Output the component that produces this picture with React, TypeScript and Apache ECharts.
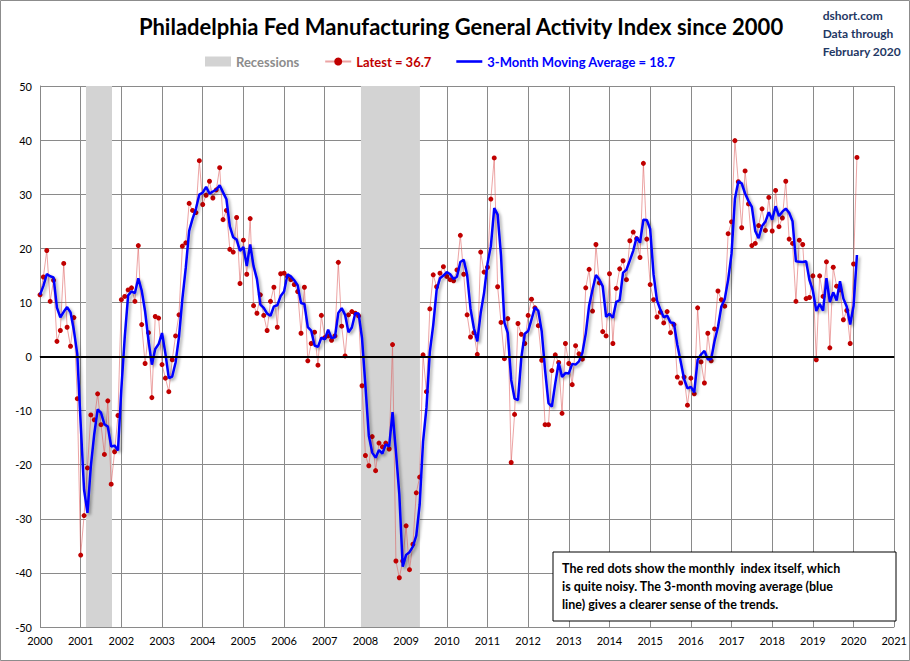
import { useRef, useEffect } from "react";
import * as echarts from "echarts";

// Monthly index values, Jan 2000 .. Feb 2020
const Y2000 = [11.4, 14.7, 19.6, 10.2, 14.1, 2.8, 4.8, 17.2, 5.4, 1.9, 7.2, -7.8];
const Y2001 = [-36.7, -29.4, -20.6, -10.8, -11.7, -6.9, -12.6, -18.1, -8.2, -23.6, -17.6, -10.9];
const Y2002 = [10.5, 11.1, 12.3, 12.7, 10.2, 20.5, 5.9, -1.3, 4.4, -7.6, 7.4, 7.1];
const Y2003 = [-1.5, -4.0, -6.5, -0.6, 3.8, 7.7, 20.4, 21.0, 28.3, 27.0, 26.6, 36.2];
const Y2004 = [28.1, 29.8, 32.4, 29.3, 30.8, 34.9, 25.3, 27.0, 19.8, 19.3, 25.7, 13.5];
const Y2005 = [21.5, 15.2, 25.5, 9.4, 8.0, 11.4, 7.6, 4.8, 10.2, 12.8, 5.4, 15.3];
const Y2006 = [15.4, 14.8, 14.2, 13.3, 12.0, 4.3, 12.8, -0.8, 2.4, 4.5, -1.6, 7.6];
const Y2007 = [3.5, 3.8, 3.0, 3.8, 17.4, 5.6, 0.1, 7.7, 8.3, 8.0, 7.5, -5.4];
const Y2008 = [-18.3, -20.2, -14.8, -21.1, -16.0, -16.7, -16.0, -17.1, 2.2, -37.8, -40.9, -37.8];
const Y2009 = [-31.3, -39.4, -34.7, -25.2, -22.3, 0.3, -6.5, 8.8, 15.1, 12.9, 15.4, 16.6];
const Y2010 = [14.8, 14.2, 14.0, 16.0, 22.4, 15.2, 7.7, 3.6, 4.4, 0.4, 19.3, 15.6];
const Y2011 = [16.5, 29.1, 36.7, 12.9, 6.3, -0.4, 7.0, -19.6, -10.7, 6.1, 4.1, 2.4];
const Y2012 = [7.6, 10.6, 9.0, 5.7, -0.7, -12.6, -12.6, -2.6, 0.3, -1.1, -10.5, 2.4];
const Y2013 = [-1.3, -5.2, 2.0, 0.5, -0.5, 12.7, 16.1, 8.4, 20.7, 13.6, 4.6, 3.8];
const Y2014 = [15.3, 2.4, 12.6, 16.2, 17.7, 14.2, 21.4, 23.0, 21.8, 18.3, 35.7, 21.7];
const Y2015 = [13.3, 10.5, 7.3, 8.2, 6.2, 8.3, 4.4, 5.9, -3.8, -4.9, -3.8, -9.0];
const Y2016 = [-4.0, -6.9, 9.0, -1.0, -4.9, 4.3, -0.8, 5.1, 12.1, 10.5, 9.3, 22.7];
const Y2017 = [24.9, 39.9, 32.3, 23.8, 34.3, 28.2, 20.5, 20.9, 24.2, 27.3, 23.3, 29.4];
const Y2018 = [23.2, 30.7, 24.0, 25.6, 32.4, 21.7, 20.9, 10.2, 21.5, 20.7, 10.7, 10.9];
const Y2019 = [14.9, -0.6, 14.9, 11.1, 17.5, 1.6, 16.5, 13.0, 12.3, 6.8, 8.5, 2.4];
const Y2020 = [17.1, 36.8];

const YEARS = [Y2000, Y2001, Y2002, Y2003, Y2004, Y2005, Y2006, Y2007, Y2008, Y2009, Y2010,
  Y2011, Y2012, Y2013, Y2014, Y2015, Y2016, Y2017, Y2018, Y2019, Y2020];

const RECESSIONS: [number, number][] = [[2001.13, 2001.77], [2007.89, 2009.34]];

const FONT = "Lato, 'Open Sans', sans-serif";

export default function App() {
  const ref = useRef<HTMLDivElement>(null);

  useEffect(() => {
    document.body.style.margin = "0";
    if (!ref.current) return;
    const chart = echarts.init(ref.current, undefined, { renderer: "svg" });

    const monthly: [number, number][] = [];
    YEARS.forEach((vals, yi) => {
      vals.forEach((v, m) => monthly.push([2000 + yi + m / 12, v]));
    });
    // 3-month moving average of the monthly values
    const ma: [number, number][] = monthly.map((p, i) => {
      const win = monthly.slice(Math.max(0, i - 2), i + 1);
      return [p[0], win.reduce((s, q) => s + q[1], 0) / win.length];
    });

    chart.setOption({
      animation: false,
      backgroundColor: "#fff",
      textStyle: { fontFamily: FONT },
      grid: { left: 40, right: 15, top: 86, bottom: 34 },
      title: {
        text: "Philadelphia Fed Manufacturing General Activity Index since 2000",
        left: 456,
        textAlign: "center",
        top: 10,
        textStyle: { fontSize: 22, fontWeight: "bold", color: "#000", fontFamily: FONT },
      },
      legend: {
        top: 50,
        left: 200,
        itemGap: 25,
        itemWidth: 26,
        itemHeight: 10,
        textStyle: { fontSize: 13, fontWeight: "bold", fontFamily: FONT },
        data: [
          { name: "Recessions", icon: "rect", textStyle: { color: "#8c8c8c" } },
          { name: "Latest = 36.7", textStyle: { color: "#c00000" } },
          { name: "3-Month Moving Average = 18.7", icon: "path://M0,0L10,0L10,1L0,1Z", textStyle: { color: "#0000ff" } },
        ],
      },
      xAxis: {
        type: "value",
        min: 2000,
        max: 2021,
        interval: 1,
        axisLabel: { color: "#000", fontSize: 11, formatter: (v: number) => String(v) },
        axisLine: { lineStyle: { color: "#888" } },
        axisTick: { show: false },
        splitLine: { show: true, lineStyle: { color: "#8a8a8a", width: 1 } },
      },
      yAxis: {
        type: "value",
        min: -50,
        max: 50,
        interval: 10,
        axisLabel: { color: "#000", fontSize: 11 },
        axisLine: { show: true, lineStyle: { color: "#888" } },
        axisTick: { show: false },
        splitLine: { lineStyle: { color: "#8a8a8a", width: 1 } },
      },
      series: [
        {
          name: "Recessions",
          type: "line",
          data: [],
          itemStyle: { color: "#d3d3d3" },
          markArea: {
            silent: true,
            itemStyle: { color: "#d3d3d3" },
            data: RECESSIONS.map(([a, b]) => [{ xAxis: a }, { xAxis: b }]),
          },
          markLine: {
            silent: true,
            symbol: "none",
            label: { show: false },
            lineStyle: { color: "#000", width: 2, type: "solid" },
            data: [{ yAxis: 0 }],
          },
        },
        {
          name: "Latest = 36.7",
          type: "line",
          data: monthly,
          symbol: "circle",
          symbolSize: 5,
          itemStyle: { color: "#c00000" },
          lineStyle: { color: "rgba(220,90,90,0.55)", width: 1 },
          z: 3,
        },
        {
          name: "3-Month Moving Average = 18.7",
          type: "line",
          data: ma,
          symbol: "none",
          itemStyle: { color: "#0000ff" },
          lineStyle: {
            color: "#0000ff",
            width: 2.5,
            shadowColor: "rgba(0,0,0,0.35)",
            shadowBlur: 3,
            shadowOffsetX: 2,
            shadowOffsetY: 2,
          },
          z: 4,
        },
      ],
      graphic: [
        {
          type: "rect",
          shape: { x: 0.5, y: 0.5, width: 909, height: 660 },
          style: { fill: "none", stroke: "#8c8c8c", lineWidth: 1 },
          silent: true,
        },
        {
          type: "text",
          right: 9,
          top: 6,
          style: {
            text: "dshort.com\nData through\nFebruary 2020",
            align: "right",
            fill: "#1f3864",
            font: `bold 12px ${FONT}`,
            lineHeight: 18,
          },
        },
        {
          type: "rect",
          shape: { x: 553, y: 552, width: 343, height: 69 },
          style: { fill: "#fff", stroke: "#000", lineWidth: 1 },
          z: 100,
        },
        {
          type: "text",
          x: 562,
          y: 559,
          z: 101,
          style: {
            text: "The red dots show the monthly  index itself, which\nis quite noisy. The 3-month moving average (blue\nline) gives a clearer sense of the trends.",
            fill: "#000",
            font: `bold 12.5px ${FONT}`,
            lineHeight: 18,
          },
        },
      ],
    });

    return () => chart.dispose();
  }, []);

  return <div ref={ref} style={{ width: 910, height: 661 }} />;
}
